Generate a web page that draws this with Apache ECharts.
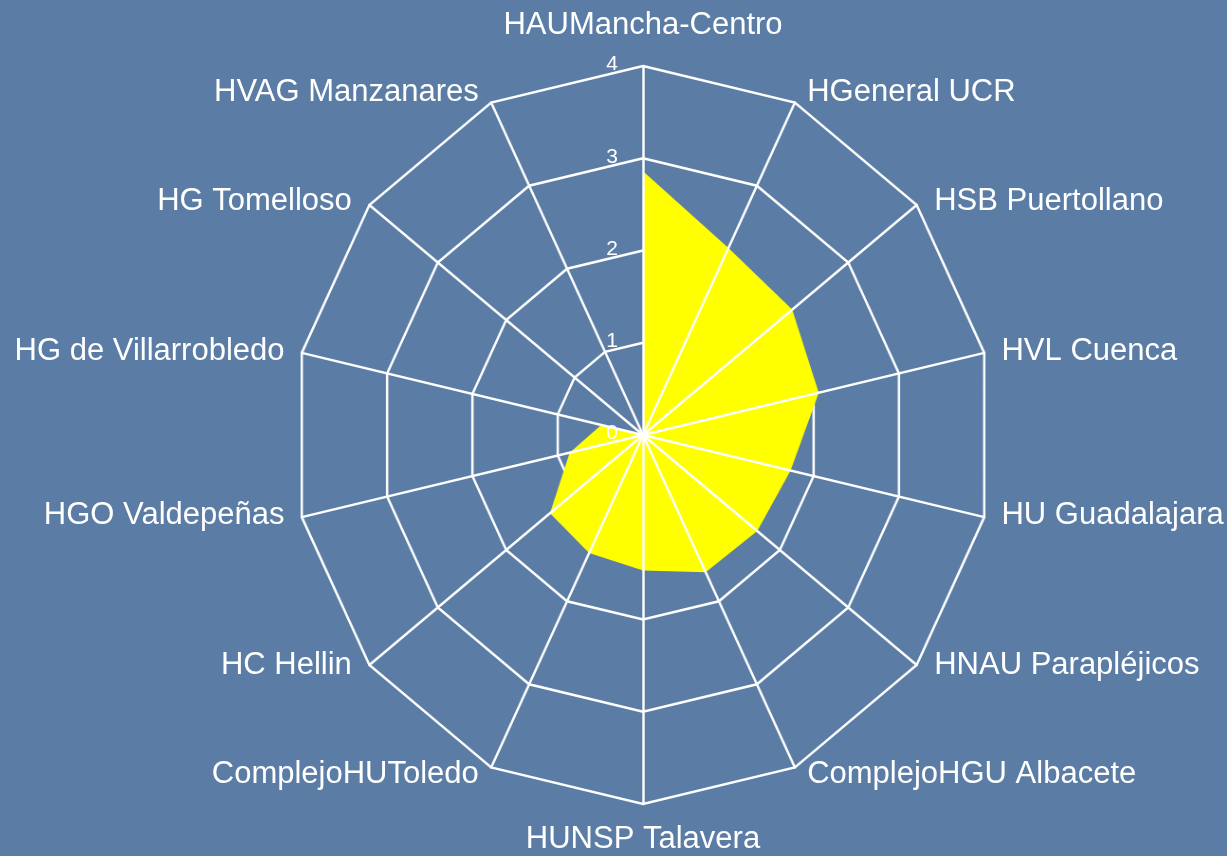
<!DOCTYPE html>
<html>
<head>
<meta charset="utf-8">
<script src="https://cdn.jsdelivr.net/npm/echarts@6/dist/echarts.min.js"></script>
<style>
html,body{margin:0;padding:0;background:#5b7da5;overflow:hidden;}
#wrap{position:relative;width:1227px;height:856px;background:#5b7da5;}
#geo,#txt{position:absolute;left:0;top:0;width:1227px;height:856px;}
#geo{transform:scaleX(0.9485);transform-origin:643px 0;}
</style>
</head>
<body>
<div id="wrap"><div id="geo"></div><div id="txt"></div></div>
<script>
// Categories clockwise from the top
const categories = [
  'HAUMancha-Centro', 'HGeneral UCR', 'HSB Puertollano', 'HVL Cuenca',
  'HU Guadalajara', 'HNAU Parapléjicos', 'ComplejoHGU Albacete', 'HUNSP Talavera',
  'ComplejoHUToledo', 'HC Hellin', 'HGO Valdepeñas', 'HG de Villarrobledo',
  'HG Tomelloso', 'HVAG Manzanares'
];
const values = [2.86, 2.25, 2.18, 2.06, 1.73, 1.67, 1.65, 1.47, 1.42, 1.36, 0.86, 0.49, 0, 0];
const axisMax = 4;
const tickLabels = ['0', '1', '2', '3', '4'];

// ECharts places indicators counter-clockwise; reorder so they appear clockwise
const n = categories.length;
const order = [0];
for (let i = n - 1; i >= 1; i--) order.push(i);

const FONT = '"Liberation Sans", Arial, Helvetica, sans-serif';
const R = 369;
const WHITE = '#ffffff';

// ---- geometry chart (rings, filled area, spokes); stretched to the reference's oval ----
const geo = echarts.init(document.getElementById('geo'), null, { renderer: 'canvas' });
const plainIndicators = order.map(function () { return { name: '', max: axisMax, min: 0 }; });
geo.setOption({
  backgroundColor: 'transparent',
  animation: false,
  radar: [
    {
      center: [643, 435], radius: R, startAngle: 90, shape: 'polygon', splitNumber: 4, z: 0,
      indicator: plainIndicators,
      axisName: { show: false },
      axisLine: { show: false }, axisTick: { show: false }, axisLabel: { show: false },
      splitArea: { show: false },
      splitLine: { show: true, lineStyle: { color: WHITE, width: 2.5 } }
    },
    {
      center: [643, 435], radius: R, startAngle: 90, shape: 'polygon', splitNumber: 4, z: 5,
      indicator: plainIndicators,
      axisName: { show: false },
      axisLine: { show: true, lineStyle: { color: WHITE, width: 2.5 } },
      axisTick: { show: false }, axisLabel: { show: false },
      splitArea: { show: false }, splitLine: { show: false }
    }
  ],
  series: [{
    type: 'radar', radarIndex: 0, z: 2, symbol: 'none',
    lineStyle: { width: 0, opacity: 0 },
    areaStyle: { color: '#ffff00', opacity: 1 },
    data: [{ value: order.map(function (i) { return values[i]; }) }]
  }]
});

// ---- text chart (category names and tick labels), not stretched ----
const txt = echarts.init(document.getElementById('txt'), null, { renderer: 'canvas' });
const namedIndicators = order.map(function (idx, k) {
  const theta = 2 * Math.PI * idx / n;
  const s = Math.sin(theta), c = Math.cos(theta);
  const ind = { name: categories[idx], max: axisMax, min: 0 };
  if (idx === 0) ind.nameGap = 23;
  else if (idx === n / 2) ind.nameGap = 21;
  else ind.nameGap = 12 * c * c - 2 * s * s;
  if (k === 0) ind.axisLabel = { show: true };
  return ind;
});
txt.setOption({
  backgroundColor: 'transparent',
  animation: false,
  radar: {
    center: [643, 433.5], radius: R, startAngle: 90, shape: 'polygon', splitNumber: 4,
    indicator: namedIndicators,
    axisName: { show: true, color: WHITE, fontFamily: FONT, fontSize: 31, lineHeight: 32 },
    axisLine: { show: false }, axisTick: { show: false },
    axisLabel: {
      show: false, color: WHITE, fontFamily: FONT, fontSize: 21, margin: 25,
      formatter: function (v) { const t = tickLabels[Math.round(v)]; return t === undefined ? '' : t; }
    },
    splitArea: { show: false }, splitLine: { show: false }
  }
});
</script>
</body>
</html>
